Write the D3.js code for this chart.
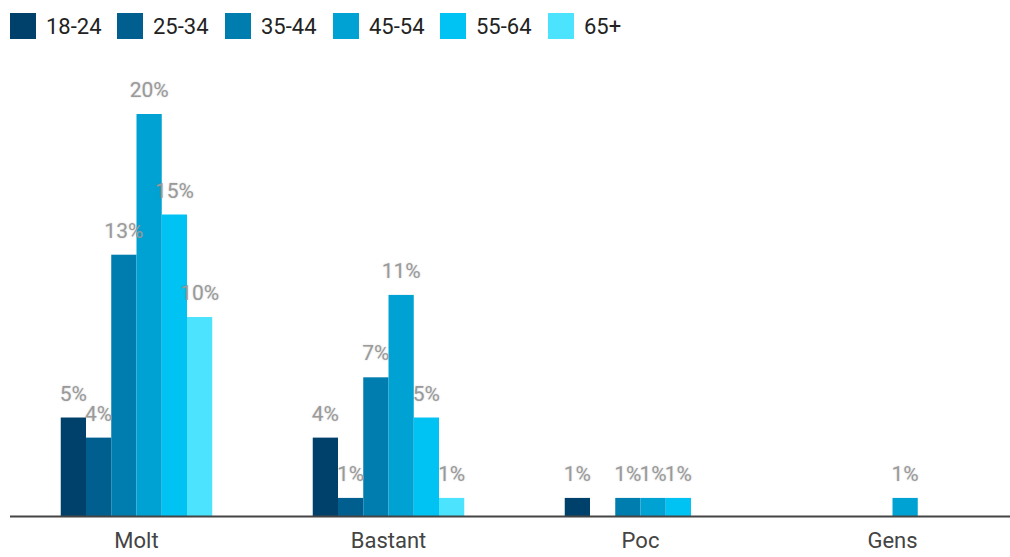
<!DOCTYPE html>
<html>
<head>
<meta charset="utf-8">
<script src="https://cdn.jsdelivr.net/npm/d3@7"></script>
<style>
  html, body { margin: 0; padding: 0; background: #fff; }
  svg { display: block; font-family: Roboto, "Noto Sans", sans-serif; }
</style>
</head>
<body>
<svg id="chart" width="1010" height="557"></svg>
<script>
const categories = ["Molt", "Bastant", "Poc", "Gens"];
const ageGroups = ["18-24", "25-34", "35-44", "45-54", "55-64", "65+"];
const colors = ["#00416b", "#005f8f", "#007daf", "#00a2d3", "#00c3f3", "#4ce3ff"];
const v1824 = [4.9, 3.9, 0.9, 0];
const v2534 = [3.9, 0.9, 0, 0];
const v3544 = [13.0, 6.9, 0.9, 0];
const v4554 = [20.0, 11.0, 0.9, 0.9];
const v5564 = [15.0, 4.9, 0.9, 0];
const v65 = [9.9, 0.9, 0, 0];
const seriesValues = [v1824, v2534, v3544, v4554, v5564, v65];

const svg = d3.select("#chart");
const baseY = 516;

const x0 = d3.scaleBand().domain(categories).range([10.5, 1018.5]).padding(0);
const x1 = d3.scaleBand().domain(ageGroups).range([0, x0.bandwidth()]).paddingInner(0).paddingOuter(1.99);
const y = d3.scaleLinear().domain([0, 25]).range([baseY, baseY - 25 * 20.1]);
const color = d3.scaleOrdinal().domain(ageGroups).range(colors);

const data = [];
categories.forEach((c, ci) => {
  ageGroups.forEach((g, gi) => {
    const v = seriesValues[gi][ci];
    if (v > 0) data.push({ cat: c, group: g, value: v });
  });
});

svg.append("g").selectAll("rect").data(data).join("rect")
  .attr("x", d => x0(d.cat) + x1(d.group))
  .attr("y", d => y(d.value))
  .attr("width", x1.bandwidth())
  .attr("height", d => y(0) - y(d.value))
  .attr("fill", d => color(d.group));

svg.append("g").selectAll("text").data(data).join("text")
  .attr("x", d => x0(d.cat) + x1(d.group) + x1.bandwidth() / 2)
  .attr("y", d => y(d.value) - 17)
  .attr("text-anchor", "middle")
  .attr("font-size", 21)
  .attr("fill", "#9a9a9a")
  .style("text-shadow", "0 0 2px rgba(120,120,120,0.35)")
  .text(d => Math.round(d.value) + "%");

// axis
const axis = svg.append("g").attr("transform", `translate(0,${baseY + 0.5})`)
  .call(d3.axisBottom(x0).tickSize(0).tickPadding(16));
axis.select(".domain").attr("stroke", "#444").attr("stroke-width", 2).attr("d", "M10,0H1010");
axis.selectAll("text").attr("font-size", 22).attr("fill", "#444").attr("font-family", "Roboto, sans-serif");

// legend
const legend = svg.append("g");
const legX = [10, 117, 225, 333, 440, 548];
ageGroups.forEach((g, i) => {
  const lg = legend.append("g").attr("transform", `translate(${legX[i]},13)`);
  lg.append("rect").attr("width", 26).attr("height", 26).attr("fill", color(g));
  lg.append("text").attr("x", 36).attr("y", 20.5).attr("font-size", 22).attr("fill", "#222").text(g);
});
</script>
</body>
</html>
